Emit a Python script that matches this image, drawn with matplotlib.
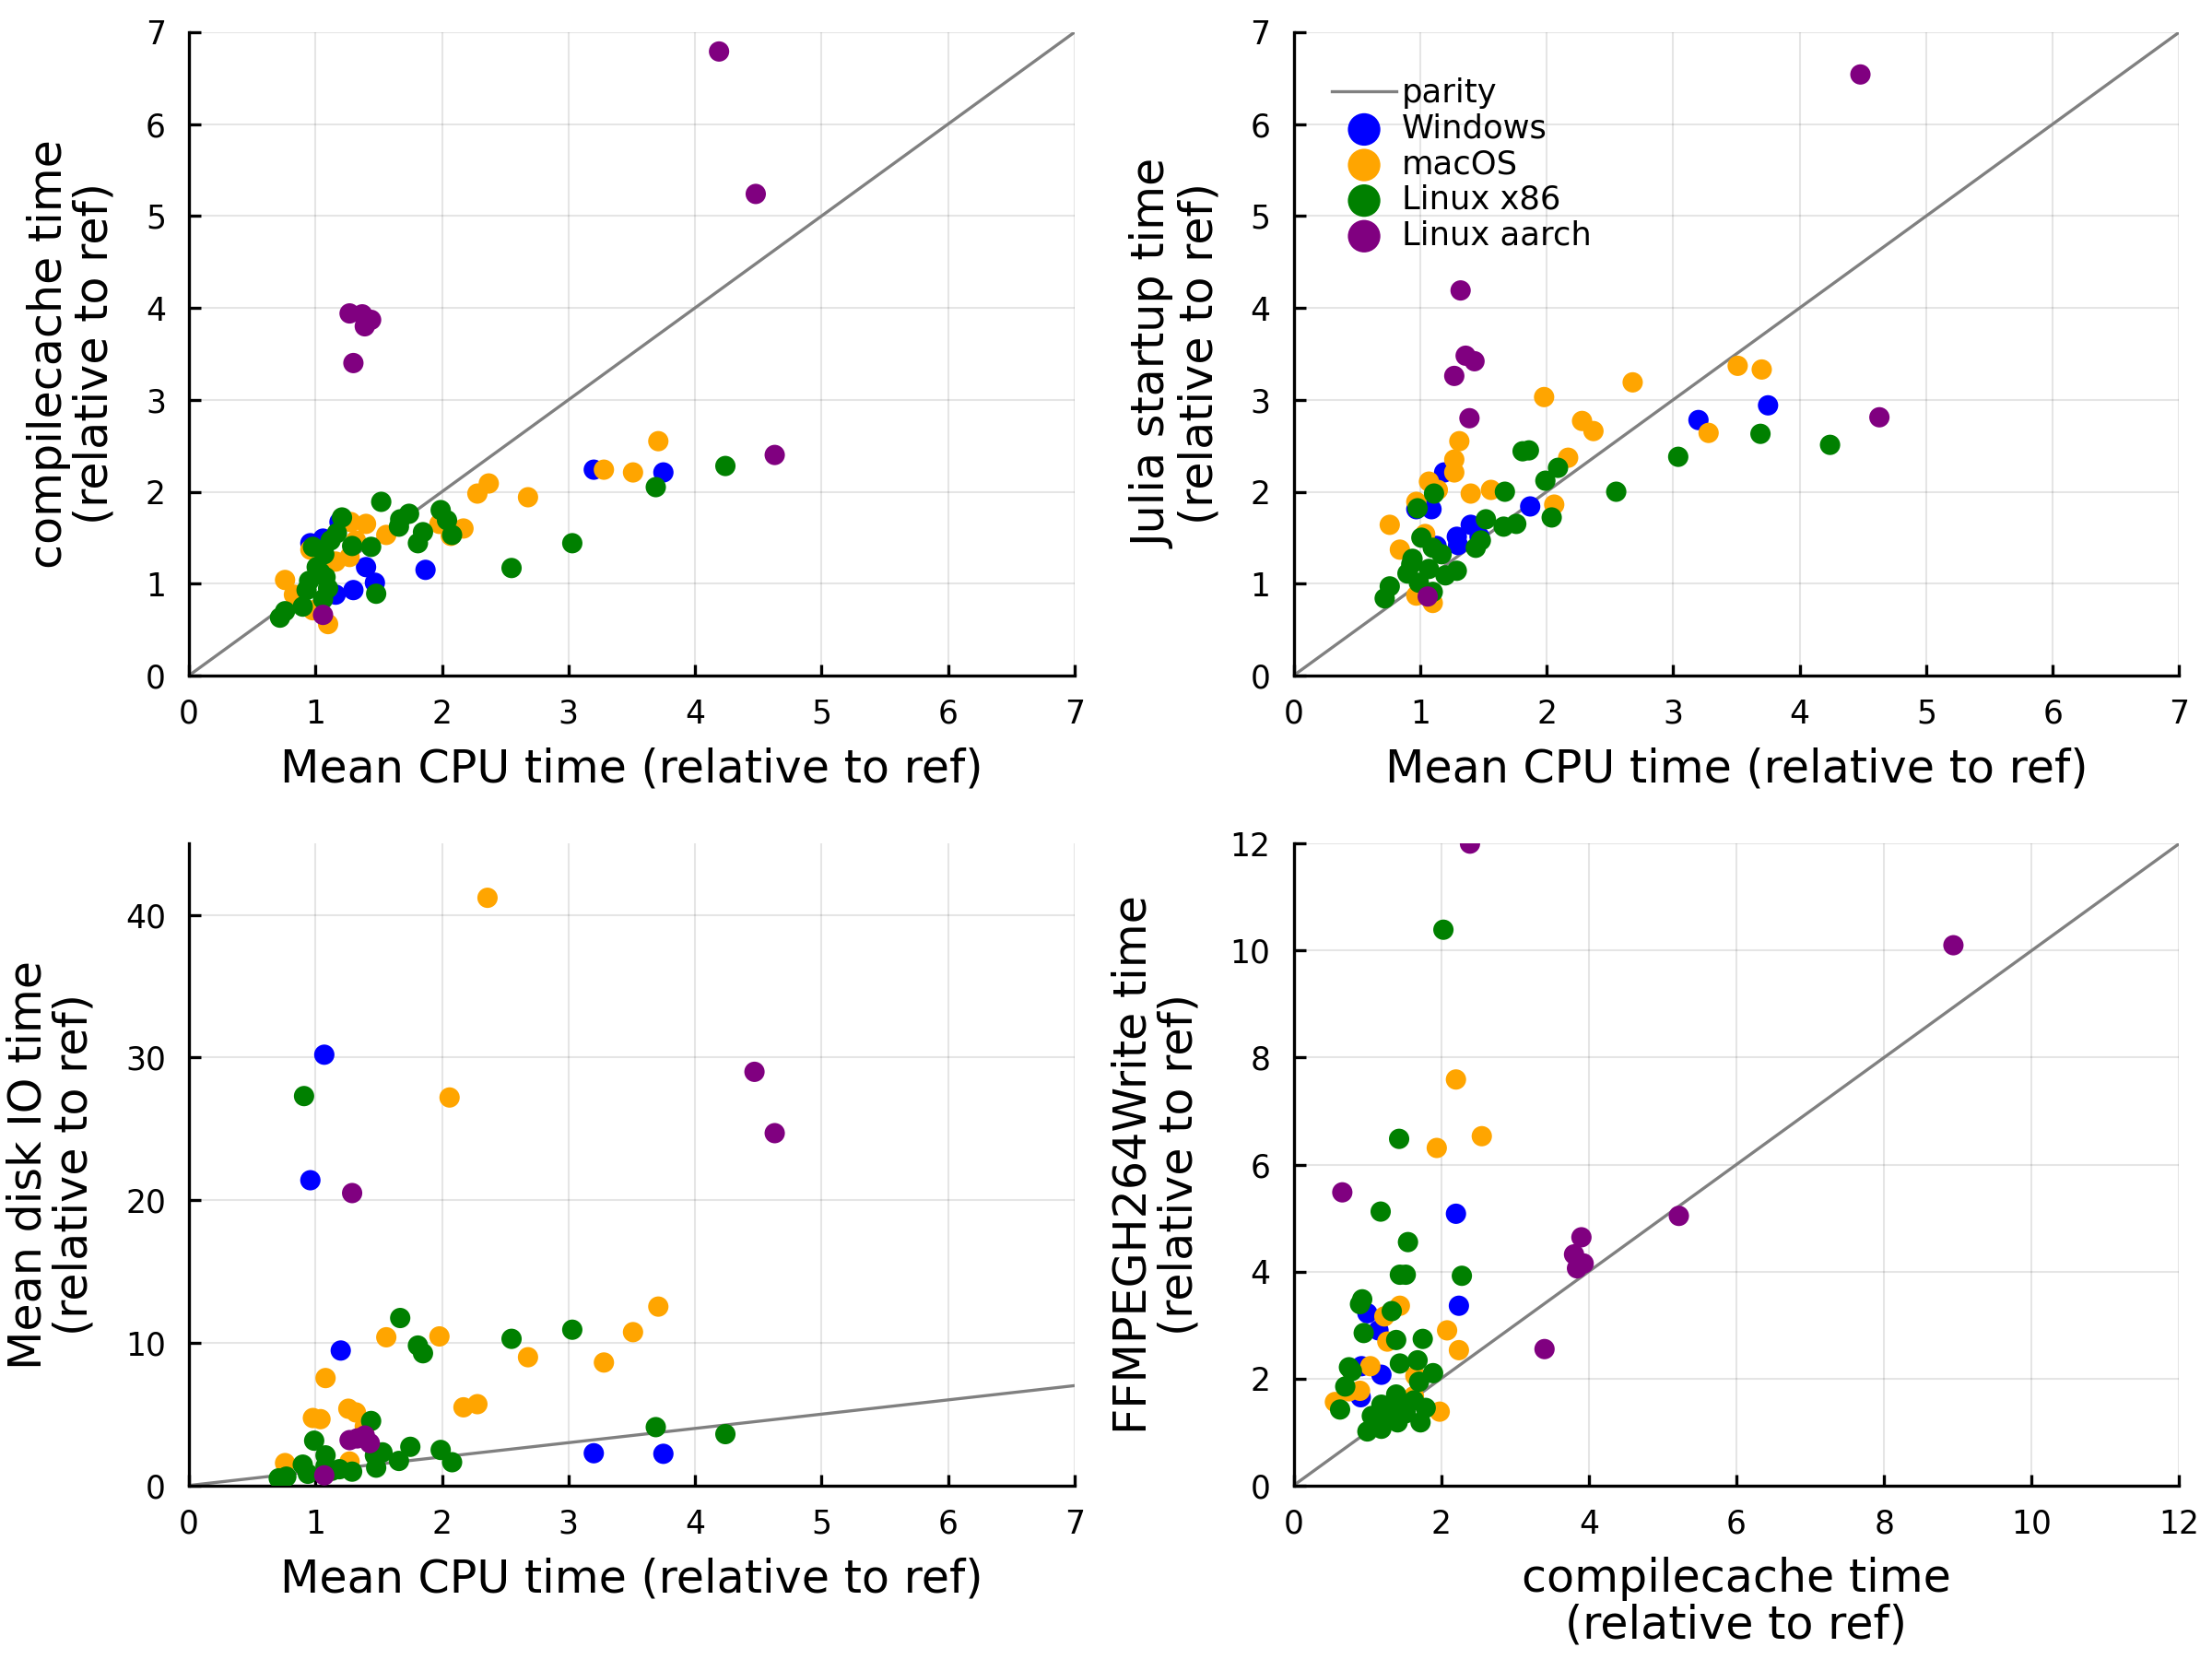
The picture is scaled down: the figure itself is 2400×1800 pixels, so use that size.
import numpy as np
import matplotlib
matplotlib.use("Agg")
import matplotlib.pyplot as plt

groups = ["Windows", "macOS", "Linux x86", "Linux aarch"]
colors = ["#0000ff", "#ffa500", "#008000", "#800080"]

# panel 1: mean CPU time vs compilecache time
cpu_cc_x = [
    [3.20, 3.75, 1.87, 1.40, 1.47, 1.30, 1.16, 0.96, 1.06, 1.19],
    [3.71, 3.28, 3.51, 2.37, 2.28, 2.68, 2.17, 1.98, 2.07, 1.56, 1.40, 1.28, 1.32, 1.27,
     1.16, 0.76, 0.83, 1.10, 0.98, 0.96],
    [4.24, 3.69, 3.03, 2.55, 1.52, 1.21, 1.74, 1.67, 1.66, 1.99, 2.04, 2.08, 1.85, 1.81,
     1.44, 1.29, 1.17, 1.12, 0.98, 1.07, 1.01, 0.95, 1.08, 0.93, 1.10, 1.06, 0.90, 0.76,
     0.72, 1.48, 1.04],
    [4.19, 4.48, 4.63, 1.27, 1.37, 1.44, 1.39, 1.30, 1.06],
]
cpu_cc_y = [
    [2.24, 2.21, 1.15, 1.18, 1.01, 0.93, 0.88, 1.44, 1.49, 1.67],
    [2.55, 2.24, 2.21, 2.09, 1.98, 1.94, 1.60, 1.65, 1.52, 1.53, 1.65, 1.67, 1.47, 1.29,
     1.24, 1.04, 0.88, 0.56, 0.71, 1.37],
    [2.28, 2.05, 1.44, 1.17, 1.89, 1.72, 1.76, 1.70, 1.62, 1.80, 1.69, 1.53, 1.56, 1.44,
     1.40, 1.41, 1.55, 1.47, 1.40, 1.32, 1.18, 1.03, 1.07, 0.93, 0.95, 0.83, 0.75, 0.70,
     0.63, 0.89, 1.12],
    [6.79, 5.24, 2.40, 3.94, 3.93, 3.87, 3.80, 3.40, 0.66],
]

# panel 2: mean CPU time vs Julia startup time
cpu_st_x = [
    [3.20, 3.75, 1.19, 0.97, 1.09, 1.87, 1.40, 1.29, 1.30, 1.47, 1.13],
    [2.68, 3.51, 3.70, 1.98, 2.28, 2.37, 2.17, 1.31, 1.27, 1.27, 1.07, 1.14, 0.97, 1.40,
     1.56, 2.06, 3.28, 0.76, 0.84, 1.04, 0.97, 1.10],
    [4.24, 3.69, 3.04, 2.55, 1.81, 1.86, 2.09, 1.99, 1.67, 2.04, 1.11, 0.98, 1.52, 1.66,
     1.76, 1.48, 1.44, 1.01, 1.10, 1.17, 0.94, 0.93, 1.29, 1.20, 0.90, 1.07, 0.99, 1.10,
     0.76, 0.72],
    [4.48, 1.32, 1.36, 1.43, 1.27, 1.39, 4.63, 1.06],
]
cpu_st_y = [
    [2.78, 2.94, 2.21, 1.81, 1.81, 1.84, 1.64, 1.51, 1.42, 1.51, 1.41],
    [3.19, 3.37, 3.33, 3.03, 2.77, 2.66, 2.37, 2.55, 2.35, 2.21, 2.11, 2.02, 1.89, 1.98,
     2.02, 1.86, 2.64, 1.64, 1.37, 1.54, 0.87, 0.79],
    [2.51, 2.63, 2.38, 2.00, 2.44, 2.45, 2.26, 2.12, 2.00, 1.72, 1.98, 1.82, 1.70, 1.62,
     1.65, 1.47, 1.39, 1.50, 1.39, 1.32, 1.27, 1.21, 1.14, 1.09, 1.11, 1.16, 1.01, 0.91,
     0.97, 0.84],
    [6.54, 4.19, 3.48, 3.42, 3.26, 2.80, 2.81, 0.86],
]

# panel 3: mean CPU time vs mean disk IO time
cpu_io_x = [
    [1.07, 0.96, 1.20, 3.20, 3.75],
    [2.36, 2.06, 3.71, 3.51, 3.28, 2.68, 1.98, 1.56, 1.08, 0.98, 1.04, 1.26, 1.32, 1.39,
     2.17, 2.28, 0.76, 1.27],
    [0.91, 3.69, 4.24, 3.03, 2.55, 1.67, 1.81, 1.85, 1.99, 2.08, 1.75, 1.66, 1.44, 1.48,
     1.53, 1.47, 0.99, 1.08, 0.90, 0.94, 1.08, 1.19, 1.29, 0.77, 0.71, 1.13],
    [4.47, 4.63, 1.29, 1.27, 1.39, 1.43, 1.33, 1.07],
]
cpu_io_y = [
    [30.2, 21.4, 9.46, 2.26, 2.22],
    [41.2, 27.2, 12.54, 10.75, 8.62, 8.99, 10.45, 10.39, 7.53, 4.73, 4.65, 5.38, 5.12, 4.15,
     5.48, 5.70, 1.57, 1.68],
    [27.3, 4.09, 3.6, 10.92, 10.28, 11.74, 9.81, 9.27, 2.49, 1.63, 2.71, 1.72, 4.52, 1.25,
     2.32, 2.10, 3.14, 2.11, 1.46, 0.82, 1.35, 1.14, 0.97, 0.62, 0.50, 1.03],
    [29.0, 24.7, 20.5, 3.18, 3.50, 2.97, 3.3, 0.71],
]

# panel 4: compilecache time vs FFMPEGH264Write time
cc_ff_x = [
    [2.20, 2.24, 1.00, 1.15, 0.92, 1.19, 0.91],
    [2.20, 2.55, 1.94, 1.44, 1.23, 1.27, 2.08, 2.24, 1.04, 0.90, 0.56, 1.98, 1.65, 1.63, 0.75],
    [2.03, 1.43, 1.18, 1.55, 1.44, 1.52, 2.28, 0.93, 0.90, 1.33, 0.95, 1.39, 1.75, 1.44,
     1.68, 0.75, 0.79, 1.89, 1.70, 0.70, 0.63, 1.39, 1.63, 1.79, 1.19, 1.06, 1.42, 1.52,
     1.72, 1.41, 1.19, 1.00, 1.25],
    [2.39, 8.94, 5.22, 3.90, 3.80, 3.84, 3.93, 3.40, 0.66],
]
cc_ff_y = [
    [5.08, 3.36, 3.22, 2.90, 2.23, 2.07, 1.65],
    [7.59, 6.53, 6.31, 3.36, 3.16, 2.69, 2.90, 2.53, 2.23, 1.77, 1.56, 1.38, 2.05, 1.67, 1.76],
    [10.39, 6.48, 5.12, 4.55, 3.94, 3.94, 3.92, 3.48, 3.39, 3.26, 2.85, 2.72, 2.74, 2.28,
     2.34, 2.21, 2.14, 2.10, 1.94, 1.85, 1.42, 1.70, 1.59, 1.45, 1.51, 1.30, 1.44, 1.35,
     1.18, 1.18, 1.06, 1.01, 1.27],
    [12.0, 10.1, 5.04, 4.64, 4.32, 4.06, 4.15, 2.55, 5.48],
]

ylab = "(relative to ref)"
panels = [
    (cpu_cc_x, cpu_cc_y, "Mean CPU time (relative to ref)", "compilecache time\n" + ylab,
     7, 7, np.arange(0, 8, 1), np.arange(0, 8, 1)),
    (cpu_st_x, cpu_st_y, "Mean CPU time (relative to ref)", "Julia startup time\n" + ylab,
     7, 7, np.arange(0, 8, 1), np.arange(0, 8, 1)),
    (cpu_io_x, cpu_io_y, "Mean CPU time (relative to ref)", "Mean disk IO time\n" + ylab,
     7, 45, np.arange(0, 8, 1), np.arange(0, 41, 10)),
    (cc_ff_x, cc_ff_y, "compilecache time\n" + ylab, "FFMPEGH264Write time\n" + ylab,
     12, 12, np.arange(0, 13, 2), np.arange(0, 13, 2)),
]

rects = [
    [0.0854, 0.5928, 0.4004, 0.3878],
    [0.5848, 0.5928, 0.4004, 0.3878],
    [0.0854, 0.1046, 0.4004, 0.3869],
    [0.5848, 0.1046, 0.4004, 0.3869],
]

plt.rcParams['font.family'] = ['DejaVu Sans']
fig = plt.figure(figsize=(8, 6), dpi=300)

for i, (xs, ys, xl, yl, xmax, ymax, xt, yt) in enumerate(panels):
    ax = fig.add_axes(rects[i])
    lim = min(xmax, ymax)
    ax.plot([0, lim], [0, lim], color="#808080", lw=0.8, label="parity", zorder=2)
    for k in range(4):
        ax.scatter(xs[k], ys[k], s=28, color=colors[k], edgecolors="none",
                   label=groups[k], zorder=3)
    ax.set_xlim(0, xmax)
    ax.set_ylim(0, ymax)
    ax.set_xticks(xt)
    ax.set_yticks(yt)
    ax.grid(True, color="#000000", alpha=0.1, lw=0.5)
    ax.set_axisbelow(True)
    for s in ["top", "right"]:
        ax.spines[s].set_visible(False)
    for s in ["left", "bottom"]:
        ax.spines[s].set_linewidth(0.8)
    ax.tick_params(direction="in", length=3, width=0.8, labelsize=8.3, pad=6)
    ax.set_xlabel(xl, fontsize=11.8, labelpad=4.5, linespacing=1.05)
    ax.set_ylabel(yl, fontsize=11.8, labelpad=7.5, linespacing=1.05)
    if i == 1:
        ax.legend(loc="upper left", bbox_to_anchor=(0.017, 0.965), frameon=False,
                  fontsize=8.5, markerscale=1.6, handlelength=2.0, handletextpad=0.15,
                  labelspacing=0.13, borderpad=0.2)

fig.savefig("out.png", dpi=300)
